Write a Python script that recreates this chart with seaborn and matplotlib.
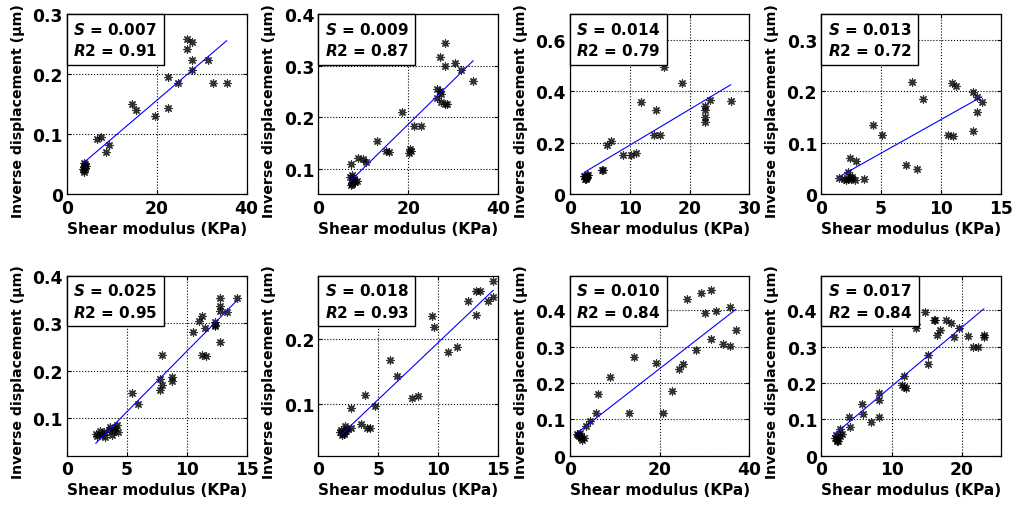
import matplotlib
matplotlib.use("Agg")
import matplotlib.pyplot as plt
import seaborn as sns
from matplotlib.offsetbox import AnchoredText
from matplotlib.ticker import FuncFormatter

# fitted slope (S) and R2 shown in each panel
slopes = ['0.007', '0.009', '0.014', '0.013', '0.025', '0.018', '0.010', '0.017']
r2_vals = ['0.91', '0.87', '0.79', '0.72', '0.95', '0.93', '0.84', '0.84']

# shear modulus (KPa) / inverse displacement (um), one pair per panel
shear1 = [26.8, 27.9, 26.7, 27.9, 31.5, 27.9, 22.5, 24.7, 32.6, 35.6, 14.5, 15.4, 22.5, 19.6,
          6.7, 7.5, 9.4, 8.6, 3.7, 4.0, 3.8, 4.1, 3.9, 3.6, 4.2, 3.8]
inv1 = [0.259, 0.254, 0.242, 0.223, 0.223, 0.207, 0.196, 0.186, 0.186, 0.186, 0.150, 0.140, 0.144, 0.131,
        0.093, 0.096, 0.083, 0.070, 0.046, 0.050, 0.040, 0.044, 0.053, 0.042, 0.048, 0.038]

shear2 = [28.2, 27.2, 30.5, 28.2, 31.7, 34.5, 26.4, 27.0, 27.3, 26.4, 27.3, 28.1, 28.6, 18.7,
          21.3, 22.8, 13.1, 15.0, 15.7, 20.2, 20.7, 20.5, 8.8, 10.0, 10.5, 7.3, 7.1, 7.5, 7.8,
          8.2, 7.4, 8.0, 7.6, 8.6, 7.2]
inv2 = [0.344, 0.316, 0.306, 0.300, 0.292, 0.271, 0.254, 0.250, 0.246, 0.237, 0.229, 0.225, 0.225, 0.210,
        0.182, 0.182, 0.153, 0.135, 0.132, 0.131, 0.135, 0.139, 0.121, 0.119, 0.113, 0.110, 0.083, 0.087, 0.078,
        0.074, 0.070, 0.080, 0.072, 0.076, 0.068]

shear3 = [15.8, 18.8, 11.9, 14.4, 23.4, 26.9, 22.6, 22.6, 22.6, 22.6, 14.0, 15.0, 6.2, 6.9,
          8.9, 10.2, 11.1, 5.3, 5.6, 2.5, 2.7, 3.0, 2.6, 2.8, 2.9, 2.4, 2.7]
inv3 = [0.495, 0.432, 0.360, 0.328, 0.367, 0.363, 0.345, 0.328, 0.302, 0.280, 0.232, 0.232, 0.193, 0.206,
        0.152, 0.154, 0.161, 0.094, 0.094, 0.070, 0.065, 0.075, 0.062, 0.077, 0.068, 0.073, 0.060]

shear4 = [7.6, 10.9, 11.25, 8.5, 12.7, 13.0, 13.4, 13.0, 12.7, 5.1, 4.3, 10.6, 11.0, 7.1,
          8.0, 2.4, 2.9, 3.6, 2.2, 1.5, 1.9, 2.2, 2.5, 2.8, 2.4, 2.1, 2.6]
inv4 = [0.219, 0.217, 0.210, 0.185, 0.199, 0.190, 0.179, 0.161, 0.123, 0.116, 0.135, 0.116, 0.114, 0.057,
        0.050, 0.071, 0.065, 0.031, 0.044, 0.032, 0.030, 0.031, 0.030, 0.029, 0.034, 0.028, 0.033]

shear5 = [12.8, 12.8, 12.8, 14.2, 13.4, 11.3, 11.0, 12.4, 12.4, 12.4, 11.5, 10.5, 12.8, 11.3,
          11.6, 7.9, 7.8, 7.9, 7.8, 8.8, 8.8, 5.4, 5.9, 2.4, 2.8, 3.1, 3.5, 2.9, 3.2, 3.8,
          4.2, 4.05, 4.3, 2.5, 3.6, 3.9]
inv5 = [0.353, 0.337, 0.326, 0.353, 0.323, 0.314, 0.305, 0.303, 0.296, 0.293, 0.290, 0.281, 0.260, 0.233,
        0.230, 0.233, 0.183, 0.170, 0.158, 0.186, 0.177, 0.153, 0.130, 0.067, 0.072, 0.071, 0.074, 0.064, 0.060, 0.064,
        0.086, 0.078, 0.071, 0.062, 0.081, 0.072]

shear6 = [14.6, 14.6, 13.2, 13.5, 12.5, 14.2, 13.2, 9.5, 9.7, 11.6, 10.8, 6.0, 6.6, 3.9,
          7.8, 8.3, 4.7, 2.7, 3.6, 4.1, 4.3, 2.7, 1.9, 2.1, 2.3, 2.0, 2.2, 2.4, 1.8, 2.1]
inv6 = [0.289, 0.264, 0.274, 0.273, 0.258, 0.258, 0.236, 0.235, 0.218, 0.187, 0.180, 0.167, 0.143, 0.113,
        0.109, 0.112, 0.097, 0.094, 0.069, 0.063, 0.063, 0.063, 0.060, 0.055, 0.058, 0.052, 0.066, 0.062, 0.057, 0.053]

shear7 = [31.5, 29.2, 26.1, 35.6, 32.5, 30.2, 37.0, 31.5, 28.0, 34.1, 35.6, 14.3, 19.3, 25.2,
          24.3, 9.0, 22.8, 6.3, 13.2, 20.8, 5.8, 4.4, 3.5, 1.6, 2.0, 2.4, 2.8, 3.1, 2.2, 2.6, 1.9]
inv7 = [0.455, 0.446, 0.432, 0.409, 0.399, 0.393, 0.345, 0.322, 0.290, 0.308, 0.301, 0.271, 0.255, 0.253,
        0.238, 0.216, 0.178, 0.170, 0.119, 0.117, 0.117, 0.096, 0.082, 0.060, 0.055, 0.050, 0.045, 0.048, 0.062, 0.053, 0.058]

shear8 = [14.7, 13.5, 13.5, 16.0, 16.1, 17.7, 18.4, 19.5, 16.8, 16.4, 18.9, 20.8, 23.1, 23.1,
          21.5, 22.3, 15.1, 15.1, 11.7, 11.5, 11.8, 12.0, 8.2, 8.2, 5.8, 5.9, 8.2, 7.1, 3.9,
          4.1, 2.7, 2.9, 1.9, 2.2, 2.4, 2.6, 2.1, 2.3]
inv8 = [0.395, 0.363, 0.351, 0.373, 0.373, 0.373, 0.365, 0.350, 0.345, 0.331, 0.326, 0.328, 0.331, 0.326,
        0.299, 0.299, 0.276, 0.253, 0.220, 0.195, 0.190, 0.186, 0.174, 0.154, 0.143, 0.115, 0.108, 0.092, 0.108,
        0.080, 0.075, 0.059, 0.050, 0.045, 0.040, 0.055, 0.057, 0.042]

shears = [shear1, shear2, shear3, shear4, shear5, shear6, shear7, shear8]
invs = [inv1, inv2, inv3, inv4, inv5, inv6, inv7, inv8]

# axis limits and ticks per panel
xlims = [(0, 40), (0, 40), (0, 30), (0, 15), (0, 15), (0, 15), (0, 40), (0, 25.5)]
xticks = [[0, 20, 40], [0, 20, 40], [0, 10, 20, 30], [0, 5, 10, 15],
          [0, 5, 10, 15], [0, 5, 10, 15], [0, 20, 40], [0, 10, 20]]
ylims = [(0, 0.3), (0.05, 0.4), (0, 0.7), (0, 0.35), (0.02, 0.4), (0.02, 0.297), (0, 0.495), (0, 0.495)]
yticks = [[0, 0.1, 0.2, 0.3], [0.1, 0.2, 0.3, 0.4], [0, 0.2, 0.4, 0.6], [0, 0.1, 0.2, 0.3],
          [0.1, 0.2, 0.3, 0.4], [0.1, 0.2], [0, 0.1, 0.2, 0.3, 0.4], [0, 0.1, 0.2, 0.3, 0.4]]

sns.set_style("ticks")
plt.rcParams['font.family'] = ['DejaVu Sans']
plt.rcParams['font.weight'] = 'bold'
plt.rcParams['axes.labelweight'] = 'bold'
plt.rcParams['text.color'] = 'black'
plt.rcParams['axes.labelcolor'] = 'black'
plt.rcParams['xtick.color'] = 'black'
plt.rcParams['ytick.color'] = 'black'
plt.rcParams['mathtext.fontset'] = 'custom'
plt.rcParams['mathtext.it'] = 'DejaVu Sans:italic:bold'
plt.rcParams['mathtext.rm'] = 'DejaVu Sans:bold'

fig, axes = plt.subplots(2, 4, figsize=(10.14, 5.06), dpi=100)
fig.subplots_adjust(left=0.066, right=0.987, bottom=0.097, top=0.970, wspace=0.40, hspace=0.45)

fmt = FuncFormatter(lambda v, p: '%g' % round(v, 3))

for i, ax in enumerate(axes.flat):
    sns.regplot(x=shears[i], y=invs[i], ax=ax, ci=None, marker=(8, 2, 0),
                scatter_kws=dict(color='black', s=28, linewidths=0.9),
                line_kws=dict(color='blue', lw=0.8))
    ax.set_xlim(*xlims[i])
    ax.set_ylim(*ylims[i])
    ax.set_xticks(xticks[i])
    ax.set_yticks(yticks[i])
    ax.xaxis.set_major_formatter(fmt)
    ax.yaxis.set_major_formatter(fmt)
    ax.grid(True, linestyle=':', color='black', lw=0.8)
    ax.tick_params(direction='in', length=3, labelsize=12.3, top=True, right=True, pad=3)
    for sp in ax.spines.values():
        sp.set_visible(True)
        sp.set_color('black')
        sp.set_linewidth(0.9)
    ax.set_xlabel('Shear modulus (KPa)', fontsize=11, labelpad=3)
    ax.set_ylabel('Inverse displacement (\u03bcm)', fontsize=10.2)
    ax.yaxis.set_label_coords(-0.235, 0.47)
    at = AnchoredText('$S$ = %s\n$R$2 = %s' % (slopes[i], r2_vals[i]), loc='upper left',
                      prop=dict(size=11, weight='bold', linespacing=1.45), frameon=True,
                      pad=0.42, borderpad=0)
    at.patch.set_edgecolor('black')
    at.patch.set_linewidth(1.0)
    at.patch.set_boxstyle('square,pad=0')
    at.zorder = 5
    ax.add_artist(at)

plt.savefig('out.png', dpi=100)
